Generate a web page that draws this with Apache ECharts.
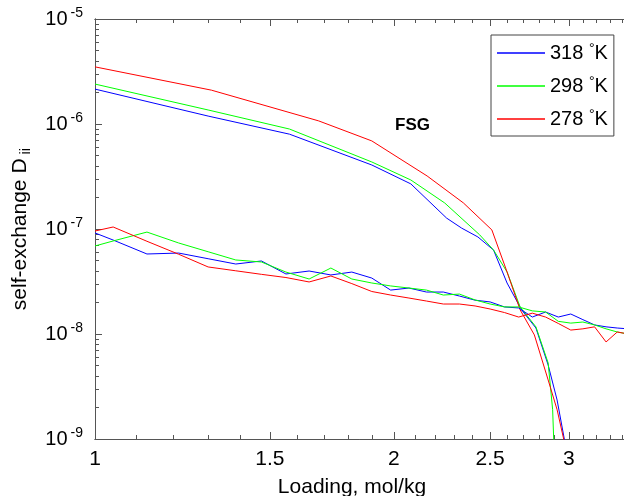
<!DOCTYPE html>
<html>
<head>
<meta charset="utf-8">
<script src="https://cdn.jsdelivr.net/npm/echarts@6/dist/echarts.min.js"></script>
<style>
  html, body { margin: 0; padding: 0; background: #fff; }
  #chart { width: 624px; height: 496px; }
</style>
</head>
<body>
<div id="chart"></div>
<script>
const temps = ['318 °K', '298 °K', '278 °K'];
const colors = ['#0000ff', '#00ff00', '#ff0000'];

// steep curves (loading, mol/kg -> D)
const up318X = [1.0, 1.3, 1.57, 1.9, 2.08, 2.26, 2.34, 2.43, 2.52, 2.6, 2.69, 2.78, 2.86, 2.92, 2.99];
const up318Y = [2.15e-6, 1.19e-6, 8.0e-7, 4.07e-7, 2.69e-7, 1.27e-7, 1.02e-7, 8.4e-8, 6.3e-8, 3.06e-8, 1.69e-8, 1.14e-8, 5.07e-9, 2.35e-9, 7e-10];
const up298X = [1.0, 1.3, 1.57, 1.9, 2.08, 2.25, 2.44, 2.52, 2.6, 2.68, 2.78, 2.86, 2.89, 2.91];
const up298Y = [2.4e-6, 1.36e-6, 8.95e-7, 4.35e-7, 2.93e-7, 1.77e-7, 8.8e-8, 6.3e-8, 3.9e-8, 1.81e-8, 1.17e-8, 5.3e-9, 1.9e-9, 3e-10];
const up278X = [1.0, 1.31, 1.68, 1.9, 2.16, 2.35, 2.51, 2.6, 2.68, 2.77, 2.86, 2.92, 2.99];
const up278Y = [3.5e-6, 2.1e-6, 1.07e-6, 6.9e-7, 3.2e-7, 1.77e-7, 9.8e-8, 3.9e-8, 1.7e-8, 9.8e-9, 3.65e-9, 1.9e-9, 7e-10];

// flat noisy curves
const lowX = [1.0, 1.043, 1.128, 1.214, 1.3, 1.386, 1.471, 1.557, 1.643, 1.728,
  1.814, 1.9, 1.985, 2.071, 2.157, 2.243, 2.328, 2.414, 2.5, 2.585,
  2.671, 2.757, 2.843, 2.928, 3.014, 3.1, 3.185, 3.271, 3.357, 3.442];
const low318 = [9.17e-8, 7.85e-8, 5.78e-8, 5.9e-8, 5.21e-8, 4.64e-8, 4.96e-8, 3.73e-8, 3.98e-8, 3.65e-8,
  3.89e-8, 3.41e-8, 2.62e-8, 2.74e-8, 2.51e-8, 2.51e-8, 2.3e-8, 2.1e-8, 2.02e-8, 1.81e-8,
  1.77e-8, 1.45e-8, 1.62e-8, 1.45e-8, 1.55e-8, 1.37e-8, 1.22e-8, 1.17e-8, 1.14e-8, 1.12e-8];
const low298 = [6.89e-8, 7.69e-8, 9.35e-8, 7.36e-8, 6.07e-8, 5.07e-8, 4.85e-8, 3.89e-8, 3.34e-8, 4.25e-8,
  3.34e-8, 3.06e-8, 2.87e-8, 2.74e-8, 2.62e-8, 2.35e-8, 2.4e-8, 2.11e-8, 1.93e-8, 1.81e-8,
  1.81e-8, 1.66e-8, 1.62e-8, 1.32e-8, 1.27e-8, 1.3e-8, 1.22e-8, 1.12e-8, 1.045e-8, 1.0e-8];
const low278 = [9.57e-8, 1.045e-7, 7.64e-8, 5.75e-8, 4.35e-8, 4.0e-8, 3.7e-8, 3.45e-8, 3.13e-8, 3.57e-8,
  3.02e-8, 2.54e-8, 2.35e-8, 2.2e-8, 2.06e-8, 1.93e-8, 1.93e-8, 1.85e-8, 1.73e-8, 1.6e-8,
  1.45e-8, 1.58e-8, 1.45e-8, 1.26e-8, 1.09e-8, 1.12e-8, 1.17e-8, 8.4e-9, 1.045e-8, 1.0e-8];

const xMajor = [1, 1.5, 2, 2.5, 3];
const xMinor = [1.1, 1.2, 1.3, 1.4, 1.6, 1.7, 1.8, 1.9, 2.1, 2.2, 2.3, 2.4,
  2.6, 2.7, 2.8, 2.9, 3.1, 3.2, 3.3, 3.4];
const yDecades = [1e-9, 1e-8, 1e-7, 1e-6];
// 2..9 within each decade
const yMinor = [];
yDecades.forEach(d => { for (let k = 2; k <= 9; k++) yMinor.push(+(k * d).toPrecision(3)); });

const font = 'Liberation Sans';
const axisColor = '#555';

const chart = echarts.init(document.getElementById('chart'));

const zip = (xs, ys) => xs.map((x, i) => [x, ys[i]]);
const upper = [zip(up318X, up318Y), zip(up298X, up298Y), zip(up278X, up278Y)];
const lower = [low318, low298, low278].map(arr => zip(lowX, arr));

const makeLine = (i, data) => ({
  name: temps[i],
  type: 'line',
  data,
  symbol: 'none',
  showSymbol: false,
  lineStyle: { width: 1, color: colors[i] },
  itemStyle: { color: colors[i] },
  emphasis: { disabled: true }
});

const xAxisBase = {
  type: 'log',
  logBase: 10,
  min: 1,
  max: 3.41,
  axisLine: { show: true, lineStyle: { color: axisColor, width: 1 } },
  splitLine: { show: false },
  minorTick: { show: false }
};

const majorX = pos => Object.assign({}, xAxisBase, {
  position: pos,
  axisTick: { show: true, inside: true, length: 7, customValues: xMajor, lineStyle: { color: axisColor } },
  axisLabel: pos === 'bottom' ? {
    show: true,
    customValues: xMajor,
    formatter: v => String(+(+v).toFixed(2)),
    fontFamily: font,
    fontSize: 21,
    color: '#000',
    margin: 10
  } : { show: false }
});
const minorX = pos => Object.assign({}, xAxisBase, {
  position: pos,
  axisTick: { show: true, inside: true, length: 4, customValues: xMinor, lineStyle: { color: axisColor } },
  axisLabel: { show: false }
});

const xMain = majorX('bottom');
xMain.name = 'Loading, mol/kg';
xMain.nameLocation = 'middle';
xMain.nameGap = 38;
xMain.nameTextStyle = { fontFamily: font, fontSize: 21, color: '#000', padding: [0, 15, 0, 0] };

const yAxisBase = {
  type: 'log',
  logBase: 10,
  min: 1e-9,
  max: 1e-5,
  position: 'left',
  axisLine: { show: true, lineStyle: { color: axisColor, width: 1 } },
  splitLine: { show: false },
  minorTick: { show: false }
};

const option = {
  animation: false,
  backgroundColor: '#fff',
  grid: { left: 95, right: 0, top: 19, bottom: 57, containLabel: false, outerBoundsMode: 'none' },
  xAxis: [xMain, minorX('bottom'), majorX('top'), minorX('top')],
  yAxis: [
    Object.assign({}, yAxisBase, {
      axisTick: { show: true, inside: true, length: 7, lineStyle: { color: axisColor } },
      axisLabel: {
        margin: 12,
        formatter: v => '{b|10}{s|' + Math.round(Math.log10(v)) + '}',
        rich: {
          b: { fontFamily: font, fontSize: 20, color: '#000' },
          s: { fontFamily: font, fontSize: 14, color: '#000', padding: [0, 0, 12, 3] }
        }
      },
      name: 'self-exchange D{sub|ii}',
      nameLocation: 'middle',
      nameGap: 62,
      nameTextStyle: {
        fontFamily: font,
        fontSize: 21,
        color: '#000',
        rich: {
          sub: { fontFamily: font, fontSize: 15, color: '#000', padding: [10, 0, 0, 4] }
        }
      }
    }),
    Object.assign({}, yAxisBase, {
      axisTick: { show: true, inside: true, length: 4, customValues: yMinor, lineStyle: { color: axisColor } },
      axisLabel: { show: false }
    })
  ],
  legend: {
    orient: 'vertical',
    left: 491,
    top: 35,
    data: temps,
    icon: 'rect',
    itemWidth: 48,
    itemHeight: 1.5,
    itemGap: 12,
    padding: [7, 6, 7, 6],
    borderColor: '#444',
    borderWidth: 1,
    backgroundColor: '#fff',
    formatter: n => n.replace('°', '{sup|°}'),
    textStyle: {
      fontFamily: font,
      fontSize: 20,
      color: '#000',
      rich: {
        sup: { fontFamily: font, fontSize: 14, color: '#000', padding: [0, 0, 8, 0] }
      }
    }
  },
  graphic: [{
    type: 'text',
    left: 395,
    top: 117,
    style: { text: 'FSG', font: 'bold 17px "Liberation Sans"', fill: '#000' }
  }],
  series: [
    makeLine(0, upper[0]), makeLine(1, upper[1]), makeLine(2, upper[2]),
    makeLine(0, lower[0]), makeLine(1, lower[1]), makeLine(2, lower[2])
  ]
};

chart.setOption(option);
</script>
</body>
</html>
